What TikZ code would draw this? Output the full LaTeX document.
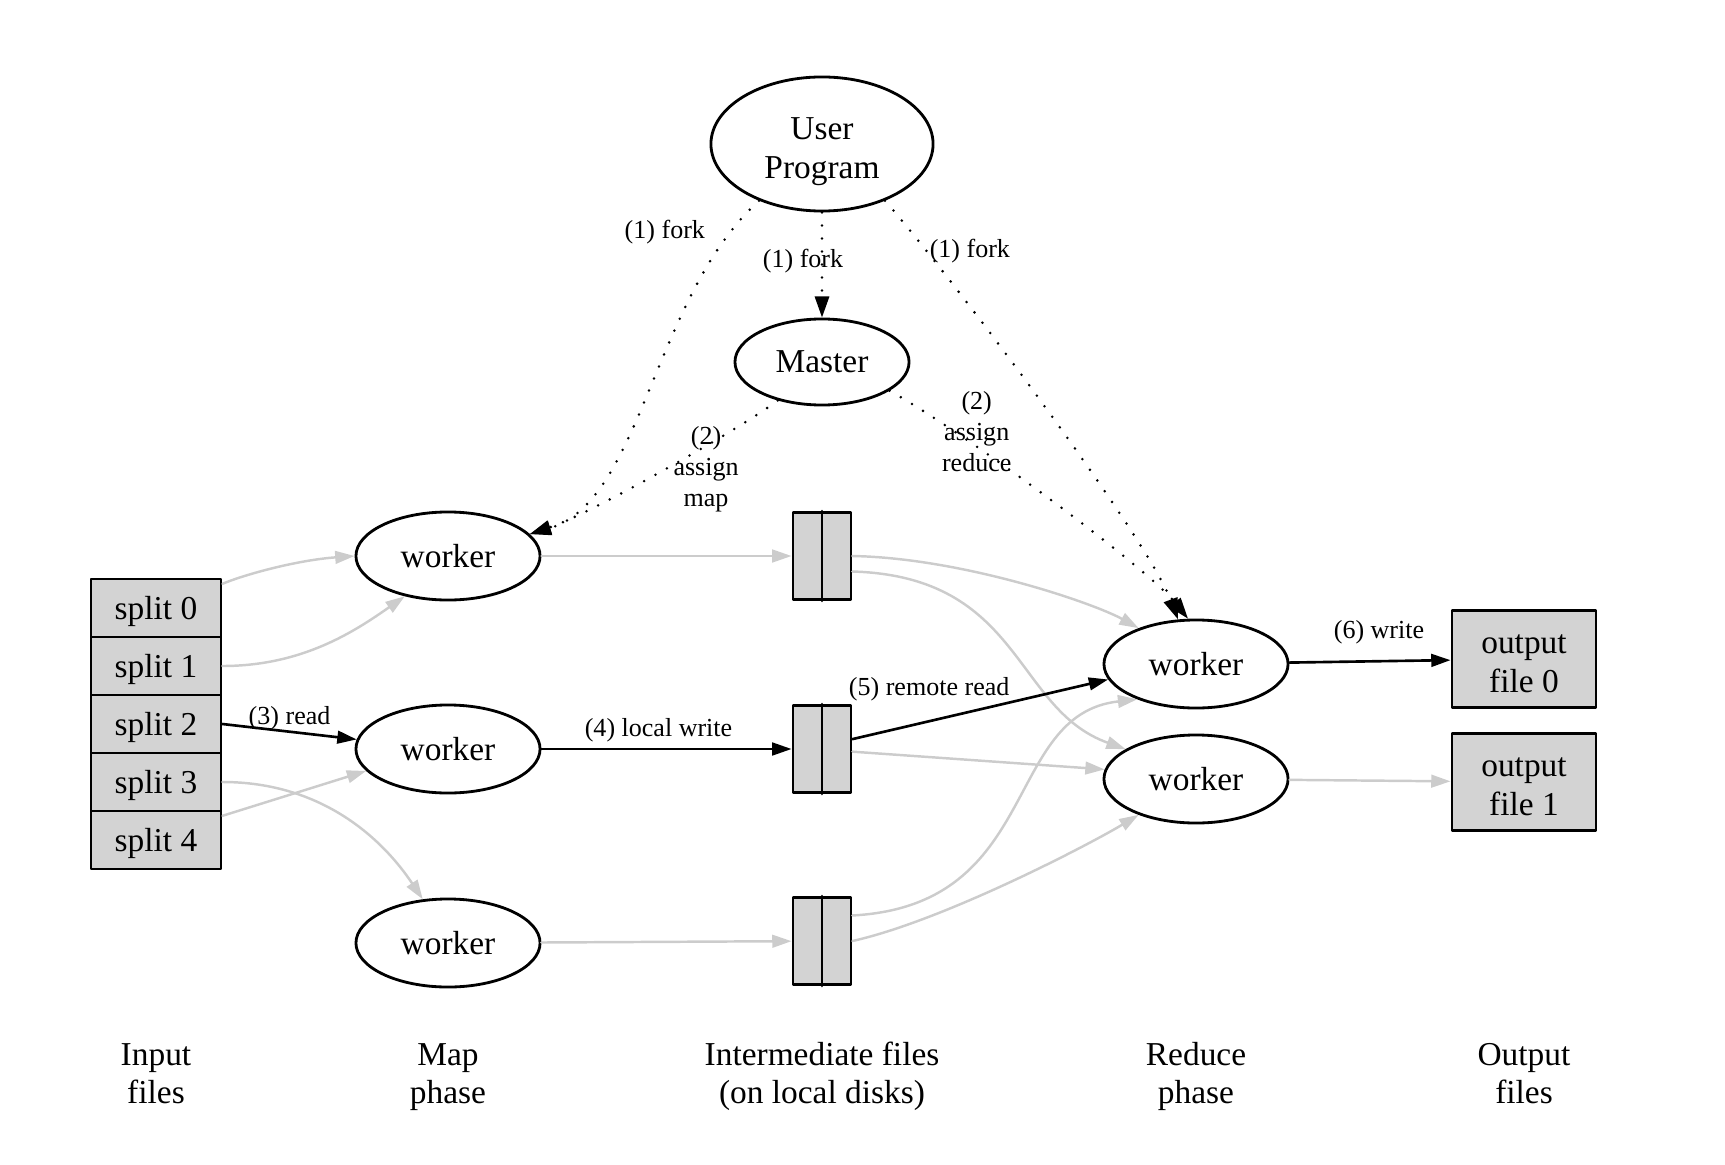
\documentclass[tikz,border=0pt]{standalone}
\usepackage{fontspec}
\setmainfont{Liberation Serif}
\usetikzlibrary{shapes.geometric,arrows.meta}
\definecolor{boxgray}{RGB}{211,211,211}
\definecolor{edgegray}{RGB}{204,204,204}

\begin{document}
\begin{tikzpicture}[x=0.01cm,y=-0.01cm,
  line cap=round,
  line join=round,
  every node/.style={font=\fontsize{9.5}{11}\selectfont},
  proc/.style={draw,ellipse,line width=0.8pt,inner sep=0pt,
    minimum width=1.84cm,minimum height=0.88cm},
  filebox/.style={draw,fill=boxgray,line width=0.8pt,inner sep=0pt},
  lbl/.style={font=\fontsize{7.4}{8.8}\selectfont,inner sep=1pt},
  bedge/.style={line width=0.75pt,-{Triangle[length=5.5pt,width=3.6pt]}},
  gedge/.style={edgegray,line width=0.7pt,-{Triangle[length=5.5pt,width=3.6pt]}},
  dotedge/.style={line width=0.8pt,dash pattern=on 0pt off 3.7pt,
    -{Triangle[length=6pt,width=4pt]}}]

  % 描画範囲
  \useasboundingbox (0,0) rectangle (1725,1164);

  % プロセス
  \node[proc,minimum width=2.22cm,minimum height=1.34cm,align=center,
    text height=20.5pt,text depth=1pt]
    (up) at (822,144) {User\\Program};
  \node[proc,minimum width=1.74cm,minimum height=0.86cm]
    (master) at (822,362) {Master};
  \node[proc] (w1) at (448,556) {worker};
  \node[proc] (w2) at (448,749) {worker};
  \node[proc] (w3) at (448,943) {worker};
  \node[proc] (r1) at (1196,664) {worker};
  \node[proc] (r2) at (1196,779) {worker};

  % 入力ファイル
  \foreach \i/\y in {0/608,1/666,2/724,3/782,4/840}
    \node[filebox,minimum width=1.3cm,minimum height=0.578cm,
      text height=8pt,text depth=1.6pt]
      (s\i) at (156,\y) {split \i};

  % 中間ファイル
  \foreach \i/\y in {1/556,2/749,3/941} {
    \node[filebox,minimum width=0.58cm,minimum height=0.87cm]
      (f\i) at (822,\y) {};
    \draw[line width=0.8pt] (f\i.north) -- (f\i.south);
  }

  % 出力ファイル
  \node[filebox,minimum width=1.44cm,minimum height=0.97cm,align=center,
    text height=20pt,text depth=1pt]
    (o0) at (1524,659) {output\\file 0};
  \node[filebox,minimum width=1.44cm,minimum height=0.97cm,align=center,
    text height=20pt,text depth=1pt]
    (o1) at (1524,782) {output\\file 1};

  % fork と assign
  \draw[dotedge] (up) -- (master)
    node[lbl,pos=0.46,xshift=-0.19cm] {(1) fork};
  \draw[dotedge] (up.222) .. controls +(-106,96) and +(112,-33) .. (w1.15)
    node[lbl,pos=0.1,anchor=east,xshift=-0.2cm] {(1) fork};
  \draw[dotedge] (up.318) .. controls +(70,80) and +(-30,-80) .. (r1.112)
    node[lbl,pos=0.16,anchor=west,xshift=-0.02cm] {(1) fork};
  \draw[dotedge] (master.221) .. controls +(-40,30) and +(60,-20) .. (w1.15)
    node[lbl,pos=0.45,align=center,xshift=0.3cm,yshift=-0.06cm]
      {(2)\\assign\\map};
  \draw[dotedge] (master.337) .. controls +(80,45) and +(-40,-50) .. (r1.100)
    node[lbl,pos=0.28,align=center,xshift=0.02cm,yshift=0.14cm]
      {(2)\\assign\\reduce};

  % map フェーズ
  \draw[gedge] (s0.20) .. controls +(24,-10) and +(-56,4) .. (w1.west);
  \draw[gedge] (s1.east) .. controls +(80,0) and +(-50,35) .. (w1.223);
  \draw[bedge] (s2.east) -- (w2.174) node[lbl,midway,above=-1pt] {(3) read};
  \draw[gedge] (s3.east) .. controls +(100,0) and +(-40,-60) .. (w3.120);
  \draw[gedge] (s4.20) -- (w2.195);

  \draw[gedge] (w1) -- (f1);
  \draw[bedge] (w2) -- (f2)
    node[lbl,midway,above=0.5pt,xshift=-0.08cm] {(4) local write};
  \draw[gedge] (w3) -- (f3);

  % reduce フェーズ
  \draw[gedge] (f1.east) .. controls +(110,2) and +(-45,-25) .. (r1.148);
  \draw[gedge] (f1.333) .. controls +(170,5) and +(-112,-40) .. (r2.157);
  \draw[bedge] (f2.18) -- (r1.190)
    node[lbl,pos=0.3,above=4.3pt] {(5) remote read};
  \draw[gedge] (f2.-5) -- (r2.174);
  \draw[gedge] (f3.40) .. controls +(190,-10) and +(-135,15) .. (r1.211);
  \draw[gedge] (f3.east) .. controls +(90,-20) and +(-50,30) .. (r2.212);

  \draw[bedge] (r1) -- (o0)
    node[lbl,midway,above=3.5pt,xshift=0.09cm] {(6) write};
  \draw[gedge] (r2) -- (o1);

  % 下の見出し
  \tikzset{phase/.style={align=center,text height=18.6pt,text depth=1pt}}
  \node[phase] (tin)  at (156,1073)  {Input\\files};
  \node[phase] (tmap) at (448,1073)  {Map\\phase};
  \node[phase] (tmid) at (822,1073)  {Intermediate files\\(on local disks)};
  \node[phase] (tred) at (1196,1073) {Reduce\\phase};
  \node[phase] (tout) at (1524,1073) {Output\\files};

\end{tikzpicture}
\end{document}
